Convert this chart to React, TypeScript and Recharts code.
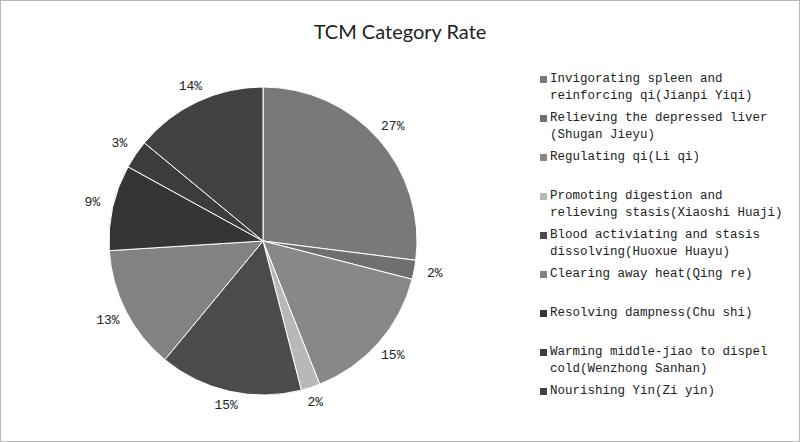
import { PieChart, Pie, Cell, Legend } from "recharts"

// Categories, clockwise from 12 o'clock
const categories = [
  ["Invigorating spleen and", "reinforcing qi(Jianpi Yiqi)"],
  ["Relieving the depressed liver", "(Shugan Jieyu)"],
  ["Regulating qi(Li qi)"],
  ["Promoting digestion and", "relieving stasis(Xiaoshi Huaji)"],
  ["Blood activiating and stasis", "dissolving(Huoxue Huayu)"],
  ["Clearing away heat(Qing re)"],
  ["Resolving dampness(Chu shi)"],
  ["Warming middle-jiao to dispel", "cold(Wenzhong Sanhan)"],
  ["Nourishing Yin(Zi yin)"],
]

const rates = [27, 2, 15, 2, 15, 13, 9, 3, 14]

const COLORS = ["#797979", "#6f6f6f", "#888888", "#b8b8b8", "#4b4b4b", "#828282", "#353535", "#3c3c3c", "#424242"]

const data = categories.map((lines, i) => ({ name: lines.join(" "), value: rates[i] }))

const RADIAN = Math.PI / 180

function renderLabel({ cx, cy, midAngle, outerRadius, value }: any) {
  const cos = Math.cos(-midAngle * RADIAN)
  const sin = Math.sin(-midAngle * RADIAN)
  const r = outerRadius + 13 + Math.abs(cos) * 8
  const x = cx + r * cos
  const y = cy + r * sin
  return (
    <text x={x} y={y} fill="#222" fontSize={13} fontFamily="'Liberation Mono', monospace" textAnchor="middle" dominantBaseline="central">
      {`${value}%`}
    </text>
  )
}

function renderLegend() {
  return (
    <div style={{ fontFamily: "'Liberation Mono', monospace", fontSize: 12.5, color: "#222" }}>
      {categories.map((lines, i) => (
        <div key={i} style={{ height: 39, position: "relative" }}>
          <div style={{ position: "absolute", left: 0, top: 5, width: 7, height: 7, background: COLORS[i] }} />
          <div style={{ position: "absolute", left: 10, top: 0, lineHeight: "16.5px", whiteSpace: "nowrap" }}>
            {lines.map((l, j) => (
              <div key={j}>{l}</div>
            ))}
          </div>
        </div>
      ))}
    </div>
  )
}

export default function App() {
  return (
    <div style={{ position: "absolute", left: 0, top: 0, width: 798, height: 440, border: "1px solid #b8b8b8", background: "#fff" }}>
      <div style={{ position: "absolute", left: 0, right: 0, top: 18, textAlign: "center", fontFamily: "Lato, 'Open Sans', sans-serif", fontSize: 20, color: "#222" }}>
        TCM Category Rate
      </div>
      <PieChart width={798} height={440}>
        <Pie
          data={data}
          dataKey="value"
          cx={257}
          cy={235}
          outerRadius={154}
          startAngle={90}
          endAngle={-270}
          stroke="#ffffff"
          strokeWidth={1}
          labelLine={false}
          label={renderLabel}
          isAnimationActive={false}
        >
          {data.map((entry, index) => (
            <Cell key={`cell-${index}`} fill={COLORS[index]} />
          ))}
        </Pie>
        <Legend
          layout="vertical"
          content={renderLegend}
          wrapperStyle={{ position: "absolute", left: 539, top: 70, width: 250 }}
        />
      </PieChart>
    </div>
  )
}
